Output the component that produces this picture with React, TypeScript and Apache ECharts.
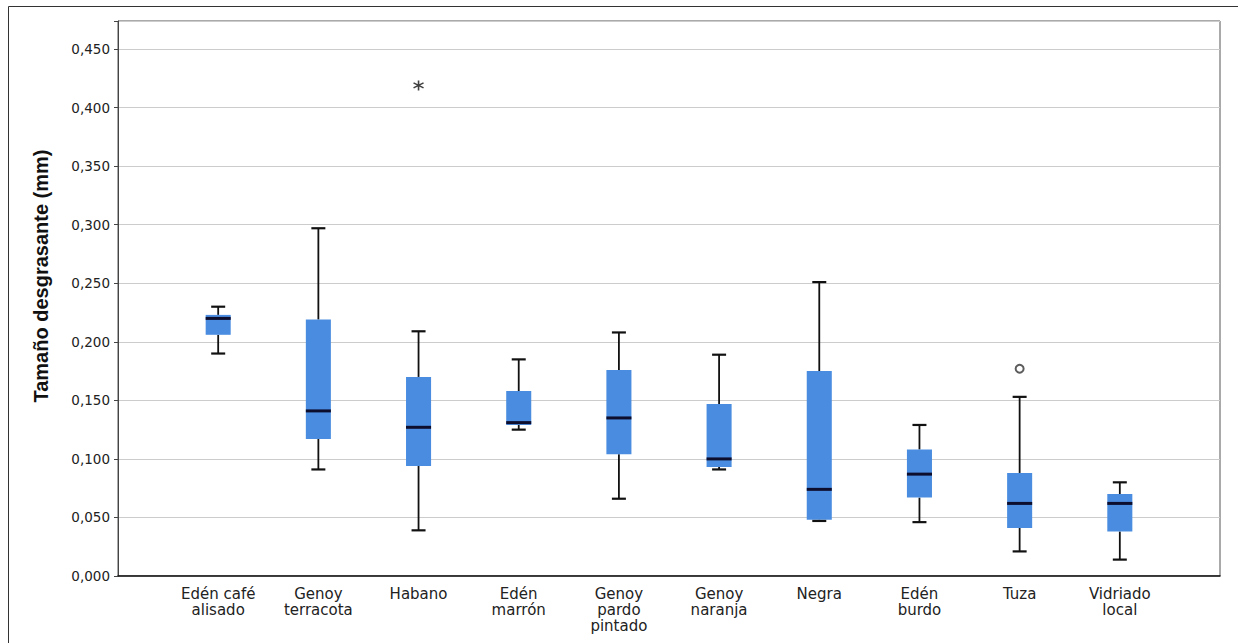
import React, { useEffect, useRef } from "react";
import * as echarts from "echarts";

const categories = [
  "Edén café\nalisado",
  "Genoy\nterracota",
  "Habano",
  "Edén\nmarrón",
  "Genoy\npardo\npintado",
  "Genoy\nnaranja",
  "Negra",
  "Edén\nburdo",
  "Tuza",
  "Vidriado\nlocal",
];
const minValues = [0.190, 0.091, 0.039, 0.125, 0.066, 0.091, 0.047, 0.046, 0.021, 0.014];
const q1Values = [0.206, 0.117, 0.094, 0.129, 0.104, 0.093, 0.048, 0.067, 0.041, 0.038];
const medianValues = [0.220, 0.141, 0.127, 0.131, 0.135, 0.100, 0.074, 0.087, 0.062, 0.062];
const q3Values = [0.223, 0.219, 0.170, 0.158, 0.176, 0.147, 0.175, 0.108, 0.088, 0.070];
const maxValues = [0.230, 0.297, 0.209, 0.185, 0.208, 0.189, 0.251, 0.129, 0.153, 0.080];
// outliers: [category index (1-based), value]
const extremeOutliers = [[3, 0.419]];
const mildOutliers = [[9, 0.177]];
const yTicks = [0, 0.05, 0.1, 0.15, 0.2, 0.25, 0.3, 0.35, 0.4, 0.45];

export default function App() {
  const ref = useRef<HTMLDivElement>(null);
  useEffect(() => {
    if (!ref.current) return;
    const chart = echarts.init(ref.current, null, { renderer: "svg" });
    const boxData = categories.map((_, i) => [
      i + 1,
      minValues[i],
      q1Values[i],
      medianValues[i],
      q3Values[i],
      maxValues[i],
    ]);
    const font = "'Liberation Sans', Arial, sans-serif";
    const wideFont = "'DejaVu Sans', sans-serif";
    chart.setOption({
      animation: false,
      backgroundColor: "#ffffff",
      grid: {
        left: 118,
        right: 18,
        top: 21,
        bottom: 67,
        show: true,
        borderColor: "#555",
        borderWidth: 1,
        backgroundColor: "transparent",
      },
      graphic: [
        {
          type: "rect",
          shape: { x: 8.5, y: 6.5, width: 1260, height: 700 },
          style: { fill: "none", stroke: "#333", lineWidth: 1 },
          silent: true,
          z: 100,
        },
        {
          type: "text",
          x: 41,
          y: 276,
          rotation: Math.PI / 2,
          style: {
            text: "Tamaño desgrasante (mm)",
            font: `bold 20px ${font}`,
            fill: "#111",
            align: "center",
            verticalAlign: "middle",
          },
        },
      ],
      xAxis: {
        type: "value",
        min: 0,
        max: 11,
        interval: 1,
        axisLine: { show: true, lineStyle: { color: "#111", width: 1.5 } },
        axisTick: { show: false },
        splitLine: { show: false },
        axisLabel: {
          fontFamily: wideFont,
          fontSize: 15,
          lineHeight: 16,
          color: "#222",
          margin: 10,
          formatter: (v: number) => categories[Math.round(v) - 1] ?? "",
        },
      },
      yAxis: {
        type: "value",
        min: 0,
        max: 0.474,
        interval: 0.05,
        axisLine: { show: true, lineStyle: { color: "#444", width: 1 } },
        axisTick: { show: true, length: 4, lineStyle: { color: "#444" } },
        splitLine: { show: true, lineStyle: { color: "#cccccc", width: 1 } },
        axisLabel: {
          fontFamily: wideFont,
          fontSize: 13.5,
          color: "#222",
          margin: 8,
          formatter: (v: number) =>
            yTicks.some((t) => Math.abs(t - v) < 1e-6) ? v.toFixed(3).replace(".", ",") : "",
        },
      },
      series: [
        {
          type: "custom",
          data: boxData,
          renderItem: (params: any, api: any) => {
            const x = api.value(0);
            const pMin = api.coord([x, api.value(1)]);
            const pQ1 = api.coord([x, api.value(2)]);
            const pMed = api.coord([x, api.value(3)]);
            const pQ3 = api.coord([x, api.value(4)]);
            const pMax = api.coord([x, api.value(5)]);
            const bw = api.size([1, 0])[0] * 0.25;
            const cw = 14;
            const cx = pMed[0];
            const lineStyle = { stroke: "#111", lineWidth: 1.8 };
            const capStyle = { stroke: "#111", lineWidth: 2.2 };
            return {
              type: "group",
              children: [
                { type: "line", shape: { x1: cx, y1: pMax[1], x2: cx, y2: pQ3[1] }, style: lineStyle },
                { type: "line", shape: { x1: cx, y1: pQ1[1], x2: cx, y2: pMin[1] }, style: lineStyle },
                {
                  type: "rect",
                  shape: { x: cx - bw / 2, y: pQ3[1], width: bw, height: Math.max(pQ1[1] - pQ3[1], 1) },
                  style: { fill: "#4a8de0", stroke: "none" },
                },
                {
                  type: "line",
                  shape: { x1: cx - bw / 2, y1: pMed[1], x2: cx + bw / 2, y2: pMed[1] },
                  style: { stroke: "#0d0d2e", lineWidth: 3 },
                },
                { type: "line", shape: { x1: cx - cw / 2, y1: pMax[1], x2: cx + cw / 2, y2: pMax[1] }, style: capStyle },
                { type: "line", shape: { x1: cx - cw / 2, y1: pMin[1], x2: cx + cw / 2, y2: pMin[1] }, style: capStyle },
              ],
            };
          },
          z: 3,
        },
        {
          type: "scatter",
          data: extremeOutliers,
          symbol: "path://M0,-5L0,5M-4.3,-2.5L4.3,2.5M-4.3,2.5L4.3,-2.5",
          symbolSize: 10,
          itemStyle: { color: "none", borderColor: "#111", borderWidth: 1.6 },
          z: 4,
        },
        {
          type: "scatter",
          data: mildOutliers,
          symbol: "emptyCircle",
          symbolSize: 8,
          itemStyle: { color: "#333", borderColor: "#333", borderWidth: 1 },
          z: 4,
        },
      ],
    });
    return () => chart.dispose();
  }, []);
  return (
    <div
      ref={ref}
      style={{ position: "fixed", left: 0, top: 0, width: 1238, height: 643, background: "#fff" }}
    />
  );
}
